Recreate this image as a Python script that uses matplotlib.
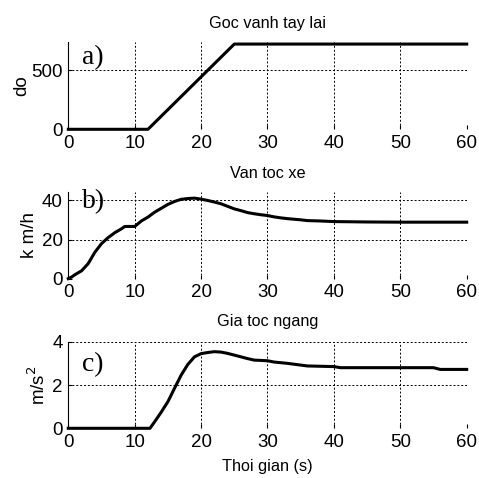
import matplotlib
matplotlib.use("Agg")
import matplotlib.pyplot as plt

# Panel a: steering wheel angle
t_a = [0, 12, 25, 60]
goc = [0, 0, 720, 720]

# Panel b: vehicle speed
t_b = [0, 0.5, 1, 2, 3, 4, 5, 6, 7, 8, 8.5, 9, 10, 11, 12, 13, 14, 15, 16, 17, 18, 19, 20,
       21, 22, 23, 24, 25, 26, 27, 28, 29, 30, 31, 32, 33, 34, 35, 36, 38, 40, 45, 50, 60]
van_toc = [0, 0.8, 2, 4, 7.7, 13.5, 17.9, 21, 23.5, 25.5, 26.7, 26.7, 26.7, 29.5, 31.5, 34, 36,
           38, 39.5, 40.6, 41, 41.2, 40.7, 40, 39.2, 38.3, 37, 35.7, 34.8, 33.8, 33.2, 32.7,
           32.3, 31.6, 31.1, 30.7, 30.4, 30.1, 29.7, 29.5, 29.2, 29.0, 28.9, 28.9]

# Panel c: lateral acceleration
t_c = [0, 12.3, 13, 14, 15, 16, 17, 18, 19, 20, 21, 22, 23, 24, 25, 26, 27, 28, 30, 31, 33,
       36, 40, 41, 55, 56, 60]
gia_toc = [0, 0, 0.3, 0.75, 1.23, 1.85, 2.46, 2.95, 3.3, 3.45, 3.5, 3.54, 3.52, 3.46, 3.38,
           3.3, 3.22, 3.15, 3.12, 3.06, 3.0, 2.88, 2.85, 2.8, 2.8, 2.72, 2.72]

plt.rcParams['font.family'] = ['Liberation Sans', 'DejaVu Sans']
fs = 13.5
tfs = 11.7

fig = plt.figure(figsize=(4.79, 4.78), dpi=100)
W, H = 479, 478
def box(top, bottom):
    left, right = 68.3, 466.7
    return [left / W, 1 - bottom / H, (right - left) / W, (bottom - top) / H]

panels = [
    (box(41.7, 129.3), t_a, goc, (0, 740), [0, 500], 'Goc vanh tay lai', 'do', 'a)', 0.966, 10, 0.5),
    (box(191.7, 278.6), t_b, van_toc, (0, 44.5), [0, 20, 40], 'Van toc xe', 'k m/h', 'b)', 1.035, 10, 2.5),
    (box(341.7, 428.3), t_c, gia_toc, (0, 4), [0, 2, 4], 'Gia toc ngang', 'm/s$^2$', 'c)', 0.885, 11, 2.5),
]

for i, (rect, t, y, ylim, yt, title, ylab, tag, ty, tpad, lpad) in enumerate(panels):
    ax = fig.add_axes(rect)
    ax.plot(t, y, color='black', lw=2.2, clip_on=False)
    ax.set_xlim(0, 60)
    ax.set_ylim(*ylim)
    ax.set_xticks([0, 10, 20, 30, 40, 50, 60])
    ax.set_yticks(yt)
    ax.grid(True, color='black', linestyle=(0, (2, 2)), lw=0.7)
    ax.tick_params(labelsize=fs, direction='in', length=3, pad=4)
    ax.set_title(title, fontsize=tfs, pad=tpad)
    ax.set_ylabel(ylab, fontsize=fs, labelpad=lpad)
    for name, s in ax.spines.items():
        s.set_visible(name == 'left')
    ax.spines['left'].set_linewidth(0.8)
    ax.text(0.034, ty, tag, transform=ax.transAxes, ha='left', va='top',
            fontsize=20, family=['Liberation Serif'])
    if i == 2:
        ax.set_xlabel('Thoi gian (s)', fontsize=tfs, labelpad=6)

fig.savefig('out.png', dpi=100)
